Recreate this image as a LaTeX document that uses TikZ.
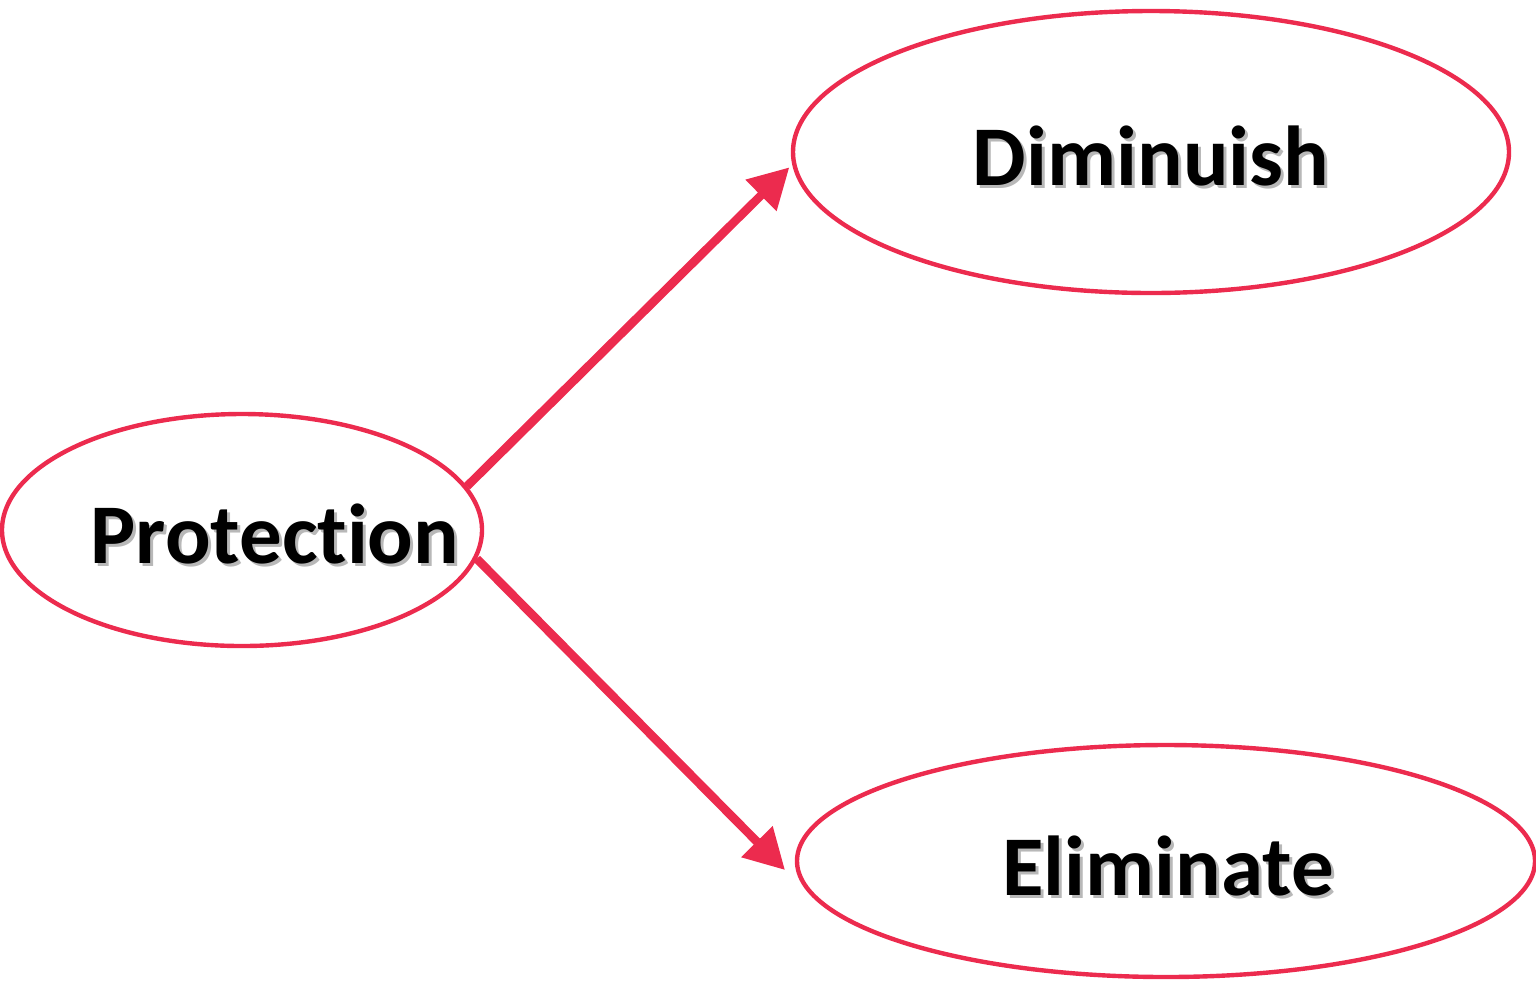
\documentclass[tikz,border=0pt]{standalone}
\usepackage{fontspec}
\setmainfont{Carlito}[Ligatures = NoCommon]
\usetikzlibrary{shapes.geometric,arrows.meta}
\definecolor{rimred}{RGB}{236,43,78}
\begin{document}
\begin{tikzpicture}[x = 0.5pt, y = -0.5pt,
            oval/.style = {ellipse, draw = rimred, line width = 2.2pt, inner sep = 0pt},
            word/.style = {font = \bfseries\fontsize{42.5}{48}\selectfont},
            shade/.style = {word, text = black!28},
            link/.style = {draw = rimred, line width = 4.3pt, -{Triangle[length = 20pt, width = 21pt]}}]
            \useasboundingbox (0,0) rectangle (1536,982);
            \node[oval, minimum width = 240pt, minimum height = 116pt] (prot) at (242,530) {};
            \node[oval, minimum width = 358pt, minimum height = 141pt] (dimi) at (1151,152) {};
            \node[oval, minimum width = 369pt, minimum height = 116pt] (elim) at (1166,861) {};
            \node[shade] (protS) at (278,537) {Protection};
            \node[shade] (dimiS) at (1154,159) {Diminuish};
            \node[shade] (elimS) at (1171,869) {Eliminate};
            \node[word] (protT) at (275,534) {Protection};
            \node[word] (dimiT) at (1151,156) {Diminuish};
            \node[word] (elimT) at (1168,866) {Eliminate};
            \coordinate (elimTip) at (785,870);
            \draw[link, shorten > = 2pt] (prot.11) -- (dimi.182);
            \draw[link] (prot.-7) -- (elimTip);
        \end{tikzpicture}
\end{document}
